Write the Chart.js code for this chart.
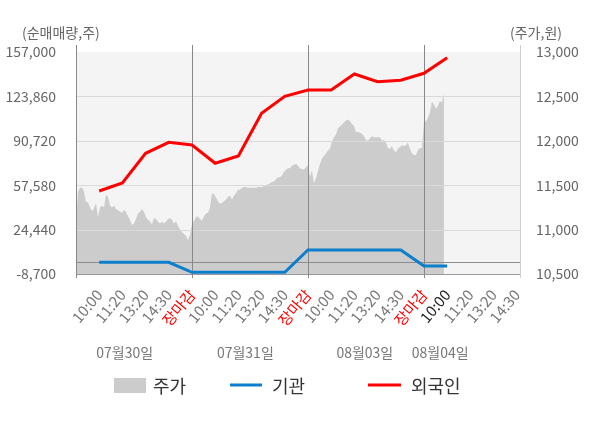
<!DOCTYPE html>
<html>
<head>
<meta charset="utf-8">
<script src="https://cdn.jsdelivr.net/npm/chart.js@4/dist/chart.umd.min.js"></script>
<style>
  html, body { margin: 0; padding: 0; background: #fff; }
</style>
</head>
<body>
<canvas id="myChart" width="600" height="428"></canvas>
<script>
// x axis: one slot per tick label, day boundaries fall on 장마감
const xLabels = ['10:00', '11:20', '13:20', '14:30', '장마감',
                 '10:00', '11:20', '13:20', '14:30', '장마감',
                 '10:00', '11:20', '13:20', '14:30', '장마감',
                 '10:00', '11:20', '13:20', '14:30'];
const dayLabels = ['07월30일', '07월31일', '08월03일', '08월04일'];

// 순매매량 (주), one value per slot 1..16
const foreignNet = [53250, 59220, 81390, 89600, 87590, 73930, 79380, 111250,
                    123940, 128640, 128640, 140580, 134830, 135880, 141100, 152750];
const instNet = [0, 0, 0, 0, -7430, -7430, -7430, -7430,
                 -7430, 9210, 9210, 9210, 9210, 9210, -2730, -2730];

const leftTicks = [-8700, 24440, 57580, 90720, 123860, 157000];
const rightTicks = [10500, 11000, 11500, 12000, 12500, 13000];

// 주가 (원), intraday samples
const price = [
  // 07/30
  11090, 11420, 11470, 11470, 11430, 11310, 11310, 11250, 11210, 11240,
  11300, 11140, 11250, 11270, 11250, 11390, 11370, 11270, 11250, 11270,
  11230, 11220, 11200, 11190, 11220, 11200, 11150, 11110, 11050, 11070,
  11120, 11180, 11200, 11230, 11200, 11140, 11110, 11090, 11060, 11130,
  11120, 11090, 11070, 11090, 11070, 11090, 11120, 11130, 11110, 11070,
  11090, 11040, 11000, 10970, 10950, 10930, 10880, 10940,
  // 07/31
  11060, 11100, 11140, 11150, 11120, 11100, 11150, 11180, 11190, 11250,
  11410, 11400, 11360, 11320, 11290, 11300, 11320, 11340, 11370, 11380,
  11340, 11380, 11410, 11450, 11450, 11470, 11480, 11480, 11470, 11470,
  11470, 11470, 11470, 11480, 11480, 11480, 11490, 11500, 11510, 11520,
  11540, 11540, 11570, 11590, 11590, 11610, 11650, 11670, 11690, 11690,
  11720, 11730, 11740, 11720, 11690, 11680, 11680, 11700,
  // 08/03
  11730, 11590, 11670, 11520, 11580, 11660, 11740, 11800, 11830, 11860,
  11890, 11910, 11990, 12040, 12070, 12140, 12160, 12180, 12210, 12230,
  12240, 12220, 12190, 12170, 12100, 12100, 12090, 12080, 12050, 12010,
  12000, 12030, 12050, 12040, 12040, 12040, 12040, 12000, 12010, 11980,
  11920, 11910, 11940, 11890, 11870, 11910, 11930, 11950, 11940, 11950,
  11980, 11910, 11860, 11840, 11840, 11900, 11920, 11920,
  // 08/04
  12200, 12220, 12260, 12320, 12440, 12410, 12360, 12390, 12450, 12430, 12530
];
const PRICE_STEP = 0.0862;          // slots between price samples
const DAY_BOUNDS = [5, 10, 15];
const DAY_LABEL_AT = [2.1, 7.3, 12.45, 15.7];

const FONT = '"Noto Sans CJK KR", "Noto Sans", sans-serif';

const chartDecor = {
    id: 'chartDecor',
    beforeDraw(chart) {
        const {ctx, chartArea: {left, top, right, bottom}} = chart;
        ctx.save();
        ctx.fillStyle = '#f4f4f4';
        ctx.fillRect(left, top, right - left, bottom - top);
        ctx.restore();
    },
    afterDatasetDraw(chart, args) {
        if (args.index !== 0) return;
        const {ctx, chartArea: {left, top, right, bottom}, scales: {x, yL}} = chart;
        const px = v => Math.round(v) + 0.5;
        ctx.save();
        ctx.lineWidth = 1;
        ctx.strokeStyle = '#d9d9d9';
        leftTicks.slice(1, -1).forEach(v => {
            const y = px(yL.getPixelForValue(v));
            ctx.beginPath(); ctx.moveTo(left, y); ctx.lineTo(right, y); ctx.stroke();
        });
        ctx.strokeStyle = '#8c8c8c';
        const zy = px(yL.getPixelForValue(0));
        ctx.beginPath(); ctx.moveTo(left, zy); ctx.lineTo(right, zy); ctx.stroke();
        ctx.strokeStyle = '#999';
        const by = px(bottom);
        ctx.beginPath(); ctx.moveTo(left, by); ctx.lineTo(right, by); ctx.stroke();
        ctx.strokeStyle = '#888';
        [left].concat(DAY_BOUNDS.map(d => x.getPixelForValue(d))).forEach(xp => {
            const xx = px(xp);
            ctx.beginPath(); ctx.moveTo(xx, top - 7); ctx.lineTo(xx, bottom + 4); ctx.stroke();
        });
        ctx.strokeStyle = '#cfcfcf';
        const rx = px(right);
        ctx.beginPath(); ctx.moveTo(rx, top - 7); ctx.lineTo(rx, bottom + 4); ctx.stroke();
        ctx.restore();
    },
    afterDraw(chart) {
        const {ctx, chartArea: {left, right}, scales: {x}} = chart;
        ctx.save();
        ctx.textBaseline = 'middle';
        ctx.font = '14px ' + FONT;
        ctx.fillStyle = '#666';
        ctx.textAlign = 'left';
        ctx.fillText('(순매매량,주)', left - 54, 33);
        ctx.textAlign = 'right';
        ctx.fillText('(주가,원)', right + 42, 33);

        ctx.textAlign = 'center';
        ctx.fillStyle = '#777';
        dayLabels.forEach((d, i) => ctx.fillText(d, x.getPixelForValue(DAY_LABEL_AT[i]), 353));

        // legend
        const ly = 385;
        ctx.font = '18px ' + FONT;
        ctx.textAlign = 'left';
        ctx.fillStyle = '#cccccc';
        ctx.fillRect(114, ly - 7, 32, 15);
        ctx.fillStyle = '#333';
        ctx.fillText('주가', 153, ly + 1);
        ctx.lineWidth = 3;
        ctx.strokeStyle = '#0b7fcc';
        ctx.beginPath(); ctx.moveTo(230, ly); ctx.lineTo(262, ly); ctx.stroke();
        ctx.fillText('기관', 272, ly + 1);
        ctx.strokeStyle = '#ff0000';
        ctx.beginPath(); ctx.moveTo(368, ly); ctx.lineTo(401, ly); ctx.stroke();
        ctx.fillText('외국인', 411, ly + 1);
        ctx.restore();
    }
};

const ctx = document.getElementById('myChart').getContext('2d');
new Chart(ctx, {
    type: 'line',
    data: {
        datasets: [{
            label: '주가',
            data: price.map((v, k) => ({x: k * PRICE_STEP, y: v})),
            yAxisID: 'yR',
            fill: 'start',
            backgroundColor: '#cccccc',
            borderWidth: 0,
            pointRadius: 0,
            order: 3
        }, {
            label: '기관',
            data: instNet.map((v, i) => ({x: i + 1, y: v})),
            yAxisID: 'yL',
            borderColor: '#0b7fcc',
            borderWidth: 3,
            pointRadius: 0,
            tension: 0,
            order: 2
        }, {
            label: '외국인',
            data: foreignNet.map((v, i) => ({x: i + 1, y: v})),
            yAxisID: 'yL',
            borderColor: '#ff0000',
            borderWidth: 3,
            pointRadius: 0,
            tension: 0,
            order: 1
        }]
    },
    options: {
        responsive: false,
        animation: false,
        devicePixelRatio: 1,
        layout: {padding: {top: 52, left: 0, right: 0, bottom: 0}},
        plugins: {legend: {display: false}, tooltip: {enabled: false}},
        scales: {
            x: {
                type: 'linear',
                min: 0,
                max: 19.14,
                afterBuildTicks: axis => { axis.ticks = xLabels.map((_, i) => ({value: i + 1})); },
                afterFit: axis => { axis.height = 154; },
                grid: {display: false},
                border: {display: false},
                ticks: {
                    autoSkip: false,
                    minRotation: 50,
                    maxRotation: 50,
                    padding: 4,
                    font: {family: FONT, size: 15},
                    color: c => xLabels[c.index] === '장마감' ? '#ff0000' : (c.index === 15 ? '#222' : '#777'),
                    callback: (v, i) => xLabels[i]
                }
            },
            yL: {
                position: 'left',
                min: -8700,
                max: 157000,
                afterBuildTicks: axis => { axis.ticks = leftTicks.map(v => ({value: v})); },
                afterFit: axis => { axis.width = 76; },
                grid: {display: false},
                border: {display: false},
                ticks: {
                    padding: 12,
                    font: {family: FONT, size: 14},
                    color: '#666',
                    callback: v => v.toLocaleString('en-US')
                }
            },
            yR: {
                position: 'right',
                min: 10500,
                max: 13000,
                afterBuildTicks: axis => { axis.ticks = rightTicks.map(v => ({value: v})); },
                afterFit: axis => { axis.width = 80; },
                grid: {display: false},
                border: {display: false},
                ticks: {
                    padding: 8,
                    font: {family: FONT, size: 14},
                    color: '#666',
                    callback: v => v.toLocaleString('en-US')
                }
            }
        }
    },
    plugins: [chartDecor]
});
</script>
</body>
</html>
